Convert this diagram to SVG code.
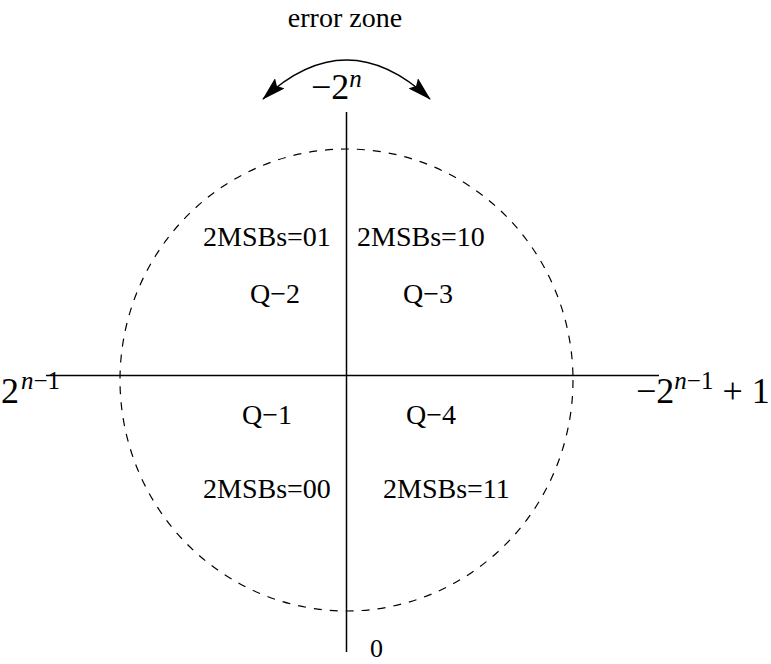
<svg xmlns="http://www.w3.org/2000/svg" width="771" height="664" viewBox="0 0 771 664">
<style>
.t{font-family:"Liberation Serif","Times New Roman",serif;font-size:28px;fill:#000}
.m{font-family:"Liberation Serif","Times New Roman",serif;font-size:36px;fill:#000}
.s{font-size:25px}
.i{font-style:italic}
.ln{stroke:#000;stroke-width:1.5;fill:none}
.dash{stroke:#000;stroke-width:1.2;fill:none;stroke-dasharray:8 8}
</style>
<defs>
<marker id="ah" viewBox="0 0 24 14" refX="23" refY="7" markerWidth="24" markerHeight="14" markerUnits="userSpaceOnUse" orient="auto-start-reverse">
<path d="M0,0 L24,7 L0,14 L4,7 Z" fill="#000"/>
</marker>
</defs>
<rect width="771" height="664" fill="#fff"/>
<g id="connectors">
<line id="vaxis" class="ln" x1="346.5" y1="112" x2="346.5" y2="652"/>
<line id="haxis" class="ln" x1="46" y1="375.5" x2="659" y2="375.5"/>
<ellipse id="circle" class="dash" cx="346.5" cy="380" rx="226.5" ry="231"/>
<path id="errarrow" class="ln" d="M263,99 Q346.5,21 430,99" marker-start="url(#ah)" marker-end="url(#ah)"/>
</g>
<g id="labels">
<text id="errzone" class="t" x="345" y="27" text-anchor="middle">error zone</text>
<text id="top" class="m" x="311" y="99">−2<tspan class="s i" dy="-12">n</tspan></text>
<text id="left" class="m" x="1" y="403">2<tspan class="s" dx="2" dy="-14"><tspan class="i">n</tspan>−1</tspan></text>
<text id="right" class="m" x="636" y="403">−2<tspan class="s" dy="-14"><tspan class="i">n</tspan>−1</tspan><tspan dy="14"> + 1</tspan></text>
<text id="zero" class="t" x="370" y="657" style="font-size:26px">0</text>
</g>
<g id="q2"><text class="t" x="203" y="246">2MSBs=01</text><text class="t" x="250" y="303">Q−2</text></g>
<g id="q3"><text class="t" x="357" y="246">2MSBs=10</text><text class="t" x="403" y="303">Q−3</text></g>
<g id="q1"><text class="t" x="242" y="424">Q−1</text><text class="t" x="203" y="498">2MSBs=00</text></g>
<g id="q4"><text class="t" x="406" y="424">Q−4</text><text class="t" x="383" y="498">2MSBs=11</text></g>
</svg>
